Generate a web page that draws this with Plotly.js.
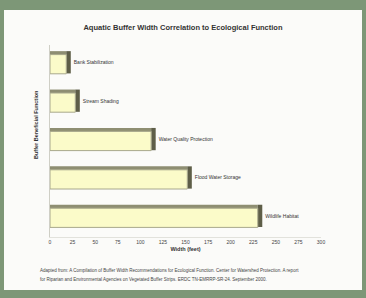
<!DOCTYPE html>
<html><head><meta charset="utf-8">
<script src="https://cdn.plot.ly/plotly-3.0.1.min.js"></script>
<style>html,body{margin:0;padding:0;background:#7d9777;}#c{width:366px;height:298px;}</style>
</head><body><div id="c"></div>
<script>
const categories = ["Bank Stabilization", "Stream Shading", "Water Quality Protection", "Flood Water Storage", "Wildlife Habitat"];
const widthsFeet = [18, 28, 112, 152, 230];
const tickValues = [0, 25, 50, 75, 100, 125, 150, 175, 200, 225, 250, 275, 300];
const chartTitle = "Aquatic Buffer Width Correlation to Ecological Function";
const xTitle = "Width (feet)";
const yTitle = "Buffer Beneficial Function";
const sourceLines = [
  "Adapted from: A Compilation of Buffer Width Recommendations for Ecological Function. Center for Watershed Protection. A report",
  "for Riparian and Environmental Agencies on Vegetated Buffer Strips. ERDC TN-EMRRP-SR-24. September 2000."
];

const depth = 5;
const font = "Liberation Sans, Arial, sans-serif";

const topFace = {
  type: "bar", orientation: "h", y: categories,
  x: widthsFeet, width: 0.5, offset: -0.34,
  marker: {color: "#8e8e72", line: {width: 0}},
  hoverinfo: "skip", showlegend: false
};
const sideFace = {
  type: "bar", orientation: "h", y: categories,
  x: widthsFeet.map(() => depth), base: widthsFeet,
  width: 0.58, offset: -0.34,
  marker: {color: "#5e5e48", line: {width: 0}},
  text: categories, textposition: "outside", cliponaxis: false,
  textfont: {family: font, size: 5, color: "#333"},
  hoverinfo: "skip", showlegend: false
};
const front = {
  type: "bar", orientation: "h", y: categories, x: widthsFeet,
  width: 0.5, offset: -0.25,
  marker: {color: "#fbfbc9", line: {color: "#a8a88c", width: 1}},
  showlegend: false
};

const layout = {
  width: 366, height: 298,
  margin: {l: 50, r: 45, t: 45, b: 61},
  paper_bgcolor: "#7d9777", plot_bgcolor: "rgba(0,0,0,0)",
  barmode: "overlay",
  title: {text: "<b>" + chartTitle + "</b>", x: 0.5, xanchor: "center", y: 1 - 27/298, yanchor: "middle",
          font: {family: font, size: 7.5, color: "#333"}},
  xaxis: {range: [0, 300], tickvals: tickValues, ticktext: tickValues.map(String),
          showgrid: false, zeroline: false, showline: true, linecolor: "#e2e2dc", linewidth: 1,
          ticks: "", tickfont: {family: font, size: 5, color: "#444"},
          title: {text: "<b>" + xTitle + "</b>", standoff: 3, font: {family: font, size: 5.5, color: "#333"}}},
  yaxis: {autorange: "reversed", showticklabels: false, ticks: "", showgrid: false,
          showline: true, linecolor: "#cfcfc6", linewidth: 1, zeroline: false,
          title: {text: ""}},
  shapes: [{type: "rect", xref: "paper", yref: "paper", layer: "below",
            x0: (4-50)/271, x1: (362-50)/271, y0: (237-290)/192, y1: (237-10)/192,
            fillcolor: "#fbfbf9", line: {width: 0}}],
  annotations: [
    {xref: "paper", yref: "paper", x: (36-50)/271, y: (237-125)/192, textangle: -90,
     text: "<b>" + yTitle + "</b>", showarrow: false, xanchor: "center", yanchor: "middle",
     font: {family: font, size: 5.5, color: "#333"}},
    {xref: "paper", yref: "paper", x: (38-50)/271, y: (237-270)/192, xanchor: "left", yanchor: "middle",
     text: sourceLines[0], showarrow: false, font: {family: font, size: 4.5, color: "#444"}},
    {xref: "paper", yref: "paper", x: (38-50)/271, y: (237-279)/192, xanchor: "left", yanchor: "middle",
     text: sourceLines[1], showarrow: false, font: {family: font, size: 4.5, color: "#444"}}
  ]
};
Plotly.newPlot("c", [topFace, sideFace, front], layout, {displayModeBar: false, staticPlot: true});
</script></body></html>
